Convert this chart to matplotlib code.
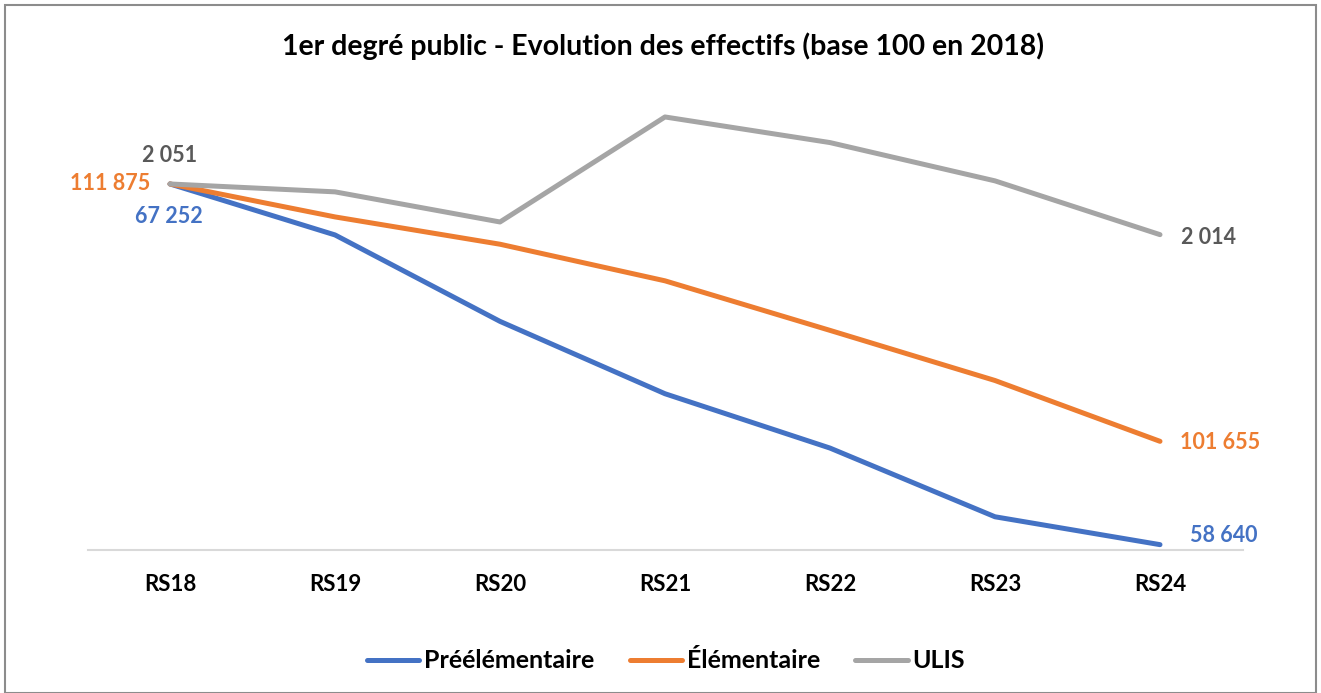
import matplotlib.pyplot as plt
from matplotlib.patches import Rectangle

# data (base 100 en 2018)
categories = ["RS18", "RS19", "RS20", "RS21", "RS22", "RS23", "RS24"]
preelementaire = [100, 98.19, 95.12, 92.55, 90.62, 88.18, 87.19]
elementaire = [100, 98.83, 97.86, 96.56, 94.80, 93.02, 90.86]
ulis = [100, 99.72, 98.65, 102.38, 101.47, 100.11, 98.20]

# raw counts shown as labels (first / last point)
labels_pre = ["67 252", "58 640"]
labels_elem = ["111 875", "101 655"]
labels_ulis = ["2 051", "2 014"]

blue = "#4472C4"
orange = "#ED7D31"
grey = "#A5A5A5"

plt.rcParams['font.family'] = ['Lato', 'DejaVu Sans']

fig = plt.figure(figsize=(13.21, 6.93), dpi=100)
ax = fig.add_axes([87.5 / 1321, 1 - 550 / 693, (1242.5 - 87.5) / 1321, (550 - 99.5) / 693])

x = list(range(len(categories)))
ax.plot(x, preelementaire, color=blue, lw=3.6, label="Préélémentaire", solid_capstyle='round')
ax.plot(x, elementaire, color=orange, lw=3.6, label="Élémentaire", solid_capstyle='round')
ax.plot(x, ulis, color=grey, lw=3.6, label="ULIS", solid_capstyle='round')

ax.set_xlim(-0.5, 6.5)
ax.set_ylim(87, 103)
ax.set_yticks([])
ax.set_xticks(x)
ax.set_xticklabels(categories, fontsize=16, fontweight='bold')
ax.tick_params(axis='x', length=0, pad=17)
for s in ["top", "left", "right"]:
    ax.spines[s].set_visible(False)
ax.spines["bottom"].set_color("#D9D9D9")
ax.spines["bottom"].set_linewidth(1.5)

lab = dict(fontsize=15.5, fontweight='bold', textcoords='offset pixels', va='center')
# start labels
ax.annotate(labels_ulis[0], (0, ulis[0]), xytext=(0, 28), ha='center', color="#595959", **lab)
ax.annotate(labels_elem[0], (0, elementaire[0]), xytext=(-20, 0), ha='right', color=orange, **lab)
ax.annotate(labels_pre[0], (0, preelementaire[0]), xytext=(33, -33), ha='right', color=blue, **lab)
# end labels
ax.annotate(labels_ulis[-1], (6, ulis[-1]), xytext=(21, -3), ha='left', color="#595959", **lab)
ax.annotate(labels_elem[-1], (6, elementaire[-1]), xytext=(20, -1), ha='left', color=orange, **lab)
ax.annotate(labels_pre[-1], (6, preelementaire[-1]), xytext=(30, 9), ha='left', color=blue, **lab)

fig.suptitle("1er degré public - Evolution des effectifs (base 100 en 2018)",
             x=663 / 1321, y=1 - 46 / 693, va='center', fontsize=20.5, fontweight='bold')

fig.legend(loc='center', bbox_to_anchor=(666 / 1321, 1 - 661 / 693), ncol=3, frameon=False,
           prop={'size': 18, 'weight': 'bold'}, handlelength=2.1, handletextpad=0.2,
           columnspacing=1.4)

fig.patches.append(Rectangle((5 / 1321, 0), 1311 / 1321, 1 - 5 / 693, transform=fig.transFigure,
                             fill=False, edgecolor="#8C8C8C", lw=1.5))

fig.savefig("out.png", dpi=100)
